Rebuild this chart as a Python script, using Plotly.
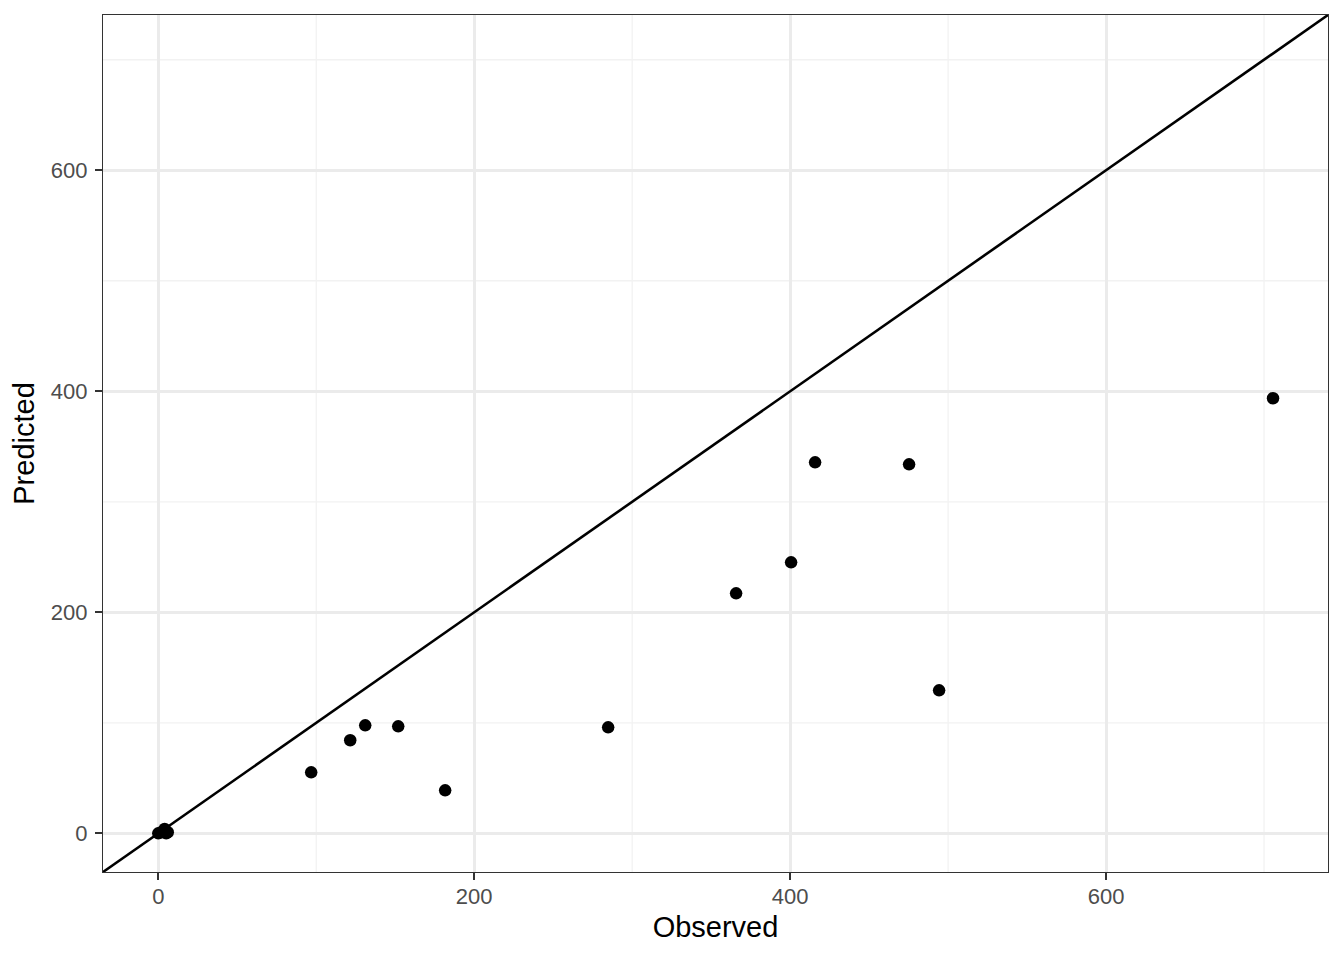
import plotly.graph_objects as go

observed = [0, 2, 4, 5, 6, 96.8, 121.5, 131, 151.9, 181.6, 284.8, 365.8, 400.6, 415.8, 475.3, 494.3, 705.7]
predicted = [0, 1, 4, 0, 1, 55.2, 84.2, 97.7, 96.8, 38.9, 95.9, 217.2, 245.2, 335.7, 333.9, 129.4, 393.7]
axis_range = [-35.0, 740.5]
major_ticks = [0, 200, 400, 600]
minor_ticks = [100, 300, 500, 700]

FONT = "Liberation Sans, Arial, sans-serif"

fig = go.Figure()
fig.add_trace(go.Scatter(x=axis_range, y=axis_range, mode="lines",
                         line=dict(color="black", width=2.6), showlegend=False, hoverinfo="skip"))
fig.add_trace(go.Scatter(x=observed, y=predicted, mode="markers",
                         marker=dict(color="black", size=12.5), showlegend=False))

for v in minor_ticks:
    fig.add_shape(type="line", xref="x", yref="paper", x0=v, x1=v, y0=0, y1=1,
                  line=dict(color="#F2F2F2", width=1.3), layer="below")
    fig.add_shape(type="line", xref="paper", yref="y", x0=0, x1=1, y0=v, y1=v,
                  line=dict(color="#F2F2F2", width=1.3), layer="below")

axis_common = dict(
    range=axis_range, tickvals=major_ticks, ticktext=[str(t) for t in major_ticks],
    showgrid=True, gridcolor="#EBEBEB", gridwidth=2.5, zeroline=False,
    showline=True, linecolor="#333333", linewidth=1.3, mirror=True,
    ticks="outside", ticklen=7, tickwidth=2, tickcolor="#333333",
    tickfont=dict(family=FONT, size=22, color="#4D4D4D"),
)
fig.update_xaxes(**axis_common, ticklabelstandoff=-3,
                 title=dict(text="Observed", font=dict(family=FONT, size=29, color="black"), standoff=9))
fig.update_yaxes(**axis_common, ticklabelstandoff=3,
                 title=dict(text="Predicted", font=dict(family=FONT, size=29, color="black"), standoff=8))

fig.update_layout(width=1344, height=960, plot_bgcolor="white", paper_bgcolor="white",
                  margin=dict(l=95, r=24, t=7, b=96))
fig.write_html("out.html")
